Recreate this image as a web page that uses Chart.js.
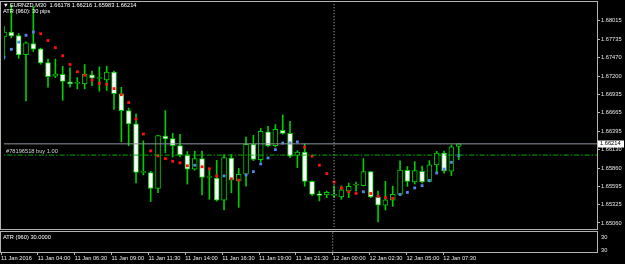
<!DOCTYPE html>
<html><head><meta charset="utf-8">
<script src="https://cdn.jsdelivr.net/npm/chart.js@4.4.1/dist/chart.umd.min.js"></script>
<style>
html,body{margin:0;padding:0;background:#000;overflow:hidden;width:625px;height:264px;}
#main{position:absolute;left:0;top:0;}
#atr{position:absolute;left:0;top:231px;}
</style></head><body>
<canvas id="main" width="625" height="231"></canvas>
<canvas id="atr" width="625" height="33"></canvas>
<script>
// ---------------- data ----------------
const symbolName = 'EURNZD,M30';
const lastBarOHLC = [1.66178, 1.66216, 1.65983, 1.66214];
const indicatorTitle = 'ATR (960): 30 pips';
const subTitle = 'ATR (960) 30.0000';
const timeLabels = ['11 Jan 2016','11 Jan 04:00','11 Jan 06:30','11 Jan 09:00','11 Jan 11:30','11 Jan 14:00','11 Jan 16:30','11 Jan 19:00','11 Jan 21:30','12 Jan 00:00','12 Jan 02:30','12 Jan 05:00','12 Jan 07:30'];
const timeLabelBars = [0,5,10,15,20,25,30,35,40,45,50,55,60];
const priceTicks = [1.68015,1.67735,1.67470,1.67200,1.66935,1.66665,1.66395,1.66130,1.65860,1.65595,1.65325,1.65060];
const atrTickLabels = ['30','30'];

const opens = [1.67773,1.67845,1.67795,1.67514,1.67678,1.67599,1.67400,1.67201,1.67229,1.67120,
1.67096,1.67087,1.67219,1.67167,1.67148,1.67262,1.66945,1.66698,1.66505,1.65799,
1.65794,1.65562,1.66329,1.66292,1.66187,1.66054,1.65846,1.65998,1.65723,1.65714,
1.65391,1.66008,1.65675,1.65770,1.66206,1.65983,1.66391,1.66187,1.66410,1.66367,
1.66044,1.66093,1.65667,1.65486,1.65468,1.65462,1.65439,1.65524,1.65610,1.65604,
1.65809,1.65439,1.65320,1.65394,1.65476,1.65827,1.65657,1.65813,1.65667,1.65908,
1.66079,1.65817,1.66178];
const highs = [1.67930,1.68242,1.67823,1.67702,1.68214,1.67610,1.67451,1.67451,1.67347,1.67323,
1.67181,1.67371,1.67276,1.67337,1.67347,1.67276,1.67039,1.66736,1.66651,1.66258,
1.65813,1.66339,1.66698,1.66367,1.66353,1.66101,1.66107,1.66107,1.65856,1.65973,
1.66059,1.66059,1.65856,1.66314,1.66339,1.66438,1.66471,1.66495,1.66637,1.66542,
1.66115,1.66211,1.65675,1.65524,1.65524,1.65600,1.65600,1.65643,1.65657,1.65998,
1.65813,1.65524,1.65667,1.65596,1.65965,1.65884,1.65955,1.65888,1.65969,1.66104,
1.66107,1.66197,1.66216];
const lows = [1.67447,1.67759,1.67461,1.66840,1.67560,1.67376,1.67039,1.67181,1.66850,1.67039,
1.67016,1.67016,1.67063,1.66982,1.66992,1.66718,1.66243,1.66187,1.65643,1.65760,
1.65373,1.65500,1.66083,1.66022,1.66022,1.65628,1.65831,1.65468,1.65405,1.65380,
1.65249,1.65500,1.65287,1.65596,1.65969,1.65955,1.66168,1.66168,1.66353,1.66012,
1.65866,1.65596,1.65458,1.65382,1.65429,1.65429,1.65405,1.65429,1.65524,1.65600,
1.65429,1.65074,1.65249,1.65302,1.65465,1.65593,1.65628,1.65643,1.65657,1.65799,
1.65785,1.65752,1.65983];
const closes = [1.67845,1.67788,1.67511,1.67688,1.67596,1.67394,1.67195,1.67234,1.67124,1.67087,
1.67098,1.67229,1.67173,1.67169,1.67262,1.66945,1.66698,1.66505,1.65799,1.65801,
1.65562,1.66334,1.66286,1.66187,1.66054,1.65846,1.65998,1.65723,1.65725,1.65391,
1.66012,1.65689,1.65770,1.66206,1.65988,1.66395,1.66187,1.66424,1.66367,1.66036,
1.66093,1.65667,1.65476,1.65462,1.65505,1.65464,1.65543,1.65596,1.65612,1.65809,
1.65439,1.65320,1.65397,1.65479,1.65831,1.65667,1.65823,1.65657,1.65908,1.66079,
1.65820,1.66172,1.66214];
const stopAbove = [null,null,null,null,null,1.67820,1.67721,1.67617,1.67499,1.67371,
1.67266,1.67215,1.67144,1.67096,1.67082,1.67020,1.66931,1.66817,1.66580,1.66357,
1.66111,1.66040,1.65998,1.65959,1.65937,1.65894,null,1.65880,1.65851,1.65746,
null,1.65704,1.65685,null,null,null,null,null,null,null,
null,1.66164,1.66036,1.65902,1.65780,1.65657,1.65571,1.65515,1.65490,null,
1.65490,1.65448,1.65429,1.65419,null,null,null,null,null,null,
null,null,null];
const stopBelow = [1.67475,1.67593,1.67698,1.67798,1.67845,null,null,null,null,null,
null,null,null,null,null,null,null,null,null,null,
null,null,null,null,null,null,1.65902,null,null,null,
1.65746,null,null,1.65760,1.65809,1.65922,1.66008,1.66130,1.66225,1.66229,
1.66243,null,null,null,null,null,null,null,null,1.65515,
null,null,null,null,1.65476,1.65505,1.65571,1.65604,1.65681,1.65789,
1.65846,1.65945,1.66044];
const atrValues = [30,30,30,30,30,30,30,30,30,30,30,30,30,30,30,30,30,30,30,30,
30,30,30,30,30,30,30,30,30,30,30,30,30,30,30,30,30,30,30,30,
30,30,30,30,30,30,30,30,30,30,30,30,30,30,30,30,30,30,30,30,30,30,30];
const bidPrice = 1.66214;
const orderPrice = 1.66050;
const orderLabel = '#78196518 buy 1.00';
const separatorBar = 45;

// ---------------- styles ----------------
const GREEN = '#00cc00';
const FRAME = '#b4b4b4';
const TXT = '#e8e8e8';
const FAM = '"Liberation Sans", "DejaVu Sans", sans-serif';
const FS = 5.7;
const FONT = FS + 'px ' + FAM;
const X_MIN = 0, X_MAX = 80.85;
const Y_MIN = 1.65001, Y_MAX = 1.68254;

const idx = opens.map((_, i) => i);
const wickData = idx.map(i => ({x: i, y: [lows[i], highs[i]]}));
const bodyData = idx.map(i => ({x: i, y: [opens[i], closes[i]]}));
const bodyColors = idx.map(i => closes[i] < opens[i] ? '#ffffff' : '#000000');
const aboveData = idx.filter(i => stopAbove[i] !== null).map(i => ({x: i, y: stopAbove[i]}));
const belowData = idx.filter(i => stopBelow[i] !== null).map(i => ({x: i, y: stopBelow[i]}));

const noPad = s => { s.paddingTop = 0; s.paddingBottom = 0; s.paddingLeft = 0; s.paddingRight = 0; };

const mainOverlay = {
  id: 'mainOverlay',
  afterDraw(chart) {
    const ctx = chart.ctx, ys = chart.scales.y;
    ctx.save();
    ctx.strokeStyle = FRAME; ctx.lineWidth = 1;
    ctx.strokeRect(0.5, 1.5, 597, 228);
    ctx.font = FONT; ctx.textBaseline = 'middle'; ctx.textAlign = 'left';
    ctx.fillStyle = '#ffffff';
    ctx.fillText('\u25BC', 3, 5.3);
    ctx.fillText(symbolName + '  ' + lastBarOHLC.map(v => v.toFixed(5)).join(' '), 10, 5.3);
    ctx.fillText(indicatorTitle, 3, 11.6);
    ctx.fillStyle = '#d8d8d8';
    ctx.fillText(orderLabel, 6, ys.getPixelForValue(orderPrice) - 3.6);
    const by = ys.getPixelForValue(bidPrice);
    ctx.fillStyle = '#ffffff';
    ctx.fillRect(598, Math.round(by) - 3.5, 26, 7);
    ctx.fillStyle = '#000000';
    ctx.fillText(bidPrice.toFixed(5), 600, by);
    ctx.restore();
  }
};

const atrOverlay = {
  id: 'atrOverlay',
  afterDraw(chart) {
    const ctx = chart.ctx;
    ctx.save();
    ctx.strokeStyle = FRAME; ctx.lineWidth = 1;
    ctx.strokeRect(0.5, 0.5, 597, 21);
    ctx.font = FONT; ctx.textBaseline = 'middle'; ctx.textAlign = 'left';
    ctx.fillStyle = '#ffffff';
    ctx.fillText(subTitle, 3, 6);
    ctx.restore();
  }
};

new Chart(document.getElementById('main'), {
  type: 'bar',
  data: {
    datasets: [
      {type: 'line', data: [{x: -1, y: bidPrice}, {x: 90, y: bidPrice}], borderColor: '#8c96a0', borderWidth: 1, pointRadius: 0, order: 0},
      {type: 'line', data: [{x: -1, y: orderPrice}, {x: 90, y: orderPrice}], borderColor: '#00b400', borderWidth: 1, borderDash: [5, 2, 1.5, 2], pointRadius: 0, order: 0},
      {type: 'line', data: [{x: separatorBar, y: Y_MIN - 1}, {x: separatorBar, y: Y_MAX + 1}], borderColor: '#c8c8c8', borderWidth: 1, borderDash: [1, 2], pointRadius: 0, order: 0},
      {type: 'line', data: aboveData, showLine: false, pointStyle: 'rect', pointRadius: 2, backgroundColor: '#ff1010', borderWidth: 0, order: 1},
      {type: 'line', data: belowData, showLine: false, pointStyle: 'rect', pointRadius: 2, backgroundColor: '#5585e8', borderWidth: 0, order: 1},
      {type: 'bar', data: bodyData, barThickness: 5, backgroundColor: bodyColors, borderColor: GREEN, borderWidth: 1, borderSkipped: false, minBarLength: 1, grouped: false, order: 3},
      {type: 'bar', data: wickData, barThickness: 1, backgroundColor: GREEN, borderWidth: 0, grouped: false, order: 4}
    ]
  },
  options: {
    responsive: false, animation: false, devicePixelRatio: 1,
    layout: {padding: {left: 1, top: 1, right: 0, bottom: 1}},
    plugins: {legend: {display: false}, tooltip: {enabled: false}},
    scales: {
      x: {type: 'linear', min: X_MIN, max: X_MAX, offset: false, display: false, bounds: 'data'},
      y: {
        position: 'right', min: Y_MIN, max: Y_MAX, beginAtZero: false, bounds: 'data',
        afterBuildTicks: s => { s.ticks = priceTicks.map(v => ({value: v})); },
        afterFit: s => { s.width = 28; noPad(s); },
        ticks: {autoSkip: false, color: TXT, font: {family: FAM, size: FS}, padding: 1, callback: v => Number(v).toFixed(5)},
        grid: {drawOnChartArea: false, drawTicks: true, tickLength: 3, color: FRAME},
        border: {display: false}
      }
    }
  },
  plugins: [mainOverlay]
});

new Chart(document.getElementById('atr'), {
  type: 'line',
  data: {
    datasets: [
      {data: idx.map(i => ({x: i, y: atrValues[i]})), borderColor: FRAME, borderWidth: 1, pointRadius: 0},
      {data: [{x: separatorBar, y: 29}, {x: separatorBar, y: 31}], borderColor: '#c8c8c8', borderWidth: 1, borderDash: [1, 2], pointRadius: 0}
    ]
  },
  options: {
    responsive: false, animation: false, devicePixelRatio: 1,
    layout: {padding: {left: 1, top: 0.5, right: 0, bottom: 0}},
    plugins: {legend: {display: false}, tooltip: {enabled: false}},
    scales: {
      x: {
        type: 'linear', min: X_MIN, max: X_MAX, offset: false, bounds: 'data', position: 'bottom',
        afterBuildTicks: s => { s.ticks = timeLabelBars.map(v => ({value: v})); },
        afterFit: s => { s.height = 11; noPad(s); },
        ticks: {autoSkip: false, maxRotation: 0, minRotation: 0, align: 'start', padding: 0, color: TXT, font: {family: FAM, size: FS},
          callback: (v, i) => timeLabels[i]},
        grid: {drawOnChartArea: false, drawTicks: true, tickLength: 2, color: FRAME},
        border: {display: false}
      },
      y: {
        position: 'right', min: 29.9, max: 30, bounds: 'data',
        afterBuildTicks: s => { s.ticks = [{value: 29.971}, {value: 29.911}]; },
        afterFit: s => { s.width = 28; noPad(s); },
        ticks: {autoSkip: false, color: TXT, font: {family: FAM, size: FS}, padding: 1, callback: (v, i) => atrTickLabels[i]},
        grid: {drawOnChartArea: false, drawTicks: true, tickLength: 3, color: 'rgba(0,0,0,0)'},
        border: {display: false}
      }
    }
  },
  plugins: [atrOverlay]
});
</script>
</body></html>
